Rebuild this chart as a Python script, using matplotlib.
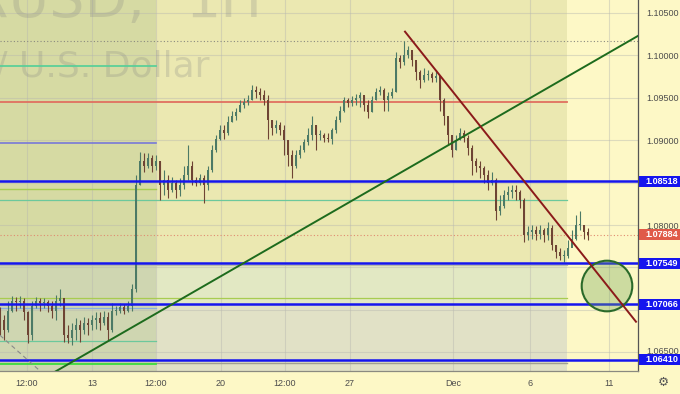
import matplotlib
matplotlib.use("Agg")
import matplotlib.pyplot as plt
import matplotlib.transforms as mtransforms
from matplotlib.patches import Rectangle, Ellipse
import numpy as np

# ---------------- data ----------------
first_open = 1.0697
close = [1.0688, 1.0676, 1.0699, 1.0711, 1.0709, 1.0711, 1.0697, 1.0670, 1.0705, 1.0711,
         1.0708, 1.0709, 1.0705, 1.0699, 1.0711, 1.0714, 1.0670, 1.0667, 1.0676, 1.0682,
         1.0676, 1.0685, 1.0682, 1.0688, 1.0690, 1.0685, 1.0692, 1.0676, 1.0699, 1.0699,
         1.0703, 1.0699, 1.0705, 1.0725, 1.0847, 1.0876, 1.0870, 1.0879, 1.0870, 1.0876,
         1.0847, 1.0853, 1.0841, 1.0850, 1.0841, 1.0847, 1.0859, 1.0870, 1.0853, 1.0850,
         1.0855, 1.0847, 1.0865, 1.0888, 1.0902, 1.0912, 1.0909, 1.0921, 1.0929, 1.0933,
         1.0941, 1.0945, 1.0947, 1.0959, 1.0957, 1.0953, 1.0947, 1.0924, 1.0914, 1.0918,
         1.0912, 1.0900, 1.0882, 1.0870, 1.0882, 1.0888, 1.0898, 1.0906, 1.0918, 1.0906,
         1.0906, 1.0903, 1.0902, 1.0912, 1.0924, 1.0935, 1.0947, 1.0944, 1.0947, 1.0950,
         1.0953, 1.0941, 1.0933, 1.0947, 1.0957, 1.0959, 1.0947, 1.0952, 1.0957, 1.0997,
         1.0992, 1.1000, 1.1006, 1.0994, 1.0980, 1.0971, 1.0977, 1.0978, 1.0973, 1.0976,
         1.0947, 1.0929, 1.0906, 1.0888, 1.0900, 1.0909, 1.0903, 1.0891, 1.0876, 1.0870,
         1.0867, 1.0859, 1.0850, 1.0853, 1.0817, 1.0823, 1.0835, 1.0839, 1.0841, 1.0839,
         1.0829, 1.0788, 1.0792, 1.0794, 1.0789, 1.0794, 1.0788, 1.0796, 1.0776, 1.0768,
         1.0764, 1.0764, 1.0773, 1.0784, 1.0800, 1.0800, 1.0792, 1.0788]
high = [1.0703, 1.0694, 1.0711, 1.0716, 1.0715, 1.0716, 1.0714, 1.0699, 1.0711, 1.0715,
        1.0714, 1.0714, 1.0712, 1.0711, 1.0717, 1.0724, 1.0711, 1.0682, 1.0685, 1.0690,
        1.0688, 1.0691, 1.0690, 1.0694, 1.0697, 1.0698, 1.0699, 1.0697, 1.0708, 1.0705,
        1.0708, 1.0707, 1.0711, 1.0731, 1.0859, 1.0886, 1.0885, 1.0885, 1.0882, 1.0882,
        1.0876, 1.0865, 1.0859, 1.0857, 1.0853, 1.0855, 1.0870, 1.0894, 1.0876, 1.0857,
        1.0860, 1.0859, 1.0870, 1.0894, 1.0906, 1.0918, 1.0918, 1.0929, 1.0935, 1.0938,
        1.0947, 1.0950, 1.0953, 1.0965, 1.0964, 1.0961, 1.0959, 1.0953, 1.0924, 1.0924,
        1.0921, 1.0918, 1.0900, 1.0888, 1.0888, 1.0894, 1.0902, 1.0914, 1.0929, 1.0918,
        1.0912, 1.0909, 1.0908, 1.0914, 1.0929, 1.0940, 1.0951, 1.0950, 1.0952, 1.0955,
        1.0957, 1.0952, 1.0947, 1.0952, 1.0961, 1.0964, 1.0961, 1.0957, 1.0961, 1.1004,
        1.1000, 1.1017, 1.1011, 1.1004, 1.0992, 1.0983, 1.0985, 1.0983, 1.0980, 1.0983,
        1.0976, 1.0950, 1.0924, 1.0906, 1.0906, 1.0914, 1.0912, 1.0906, 1.0894, 1.0879,
        1.0876, 1.0870, 1.0865, 1.0862, 1.0855, 1.0835, 1.0841, 1.0846, 1.0847, 1.0847,
        1.0841, 1.0832, 1.0799, 1.0800, 1.0799, 1.0800, 1.0796, 1.0803, 1.0800, 1.0776,
        1.0773, 1.0770, 1.0782, 1.0794, 1.0812, 1.0817, 1.0800, 1.0796]
low = [1.0670, 1.0664, 1.0674, 1.0697, 1.0699, 1.0702, 1.0688, 1.0661, 1.0664, 1.0702,
       1.0699, 1.0702, 1.0697, 1.0690, 1.0688, 1.0705, 1.0662, 1.0661, 1.0658, 1.0664,
       1.0662, 1.0672, 1.0670, 1.0676, 1.0678, 1.0676, 1.0682, 1.0664, 1.0674, 1.0694,
       1.0696, 1.0695, 1.0697, 1.0699, 1.0721, 1.0847, 1.0862, 1.0867, 1.0862, 1.0865,
       1.0829, 1.0835, 1.0832, 1.0839, 1.0832, 1.0834, 1.0843, 1.0853, 1.0847, 1.0846,
       1.0847, 1.0826, 1.0841, 1.0862, 1.0886, 1.0900, 1.0902, 1.0906, 1.0921, 1.0924,
       1.0933, 1.0938, 1.0941, 1.0947, 1.0950, 1.0947, 1.0941, 1.0902, 1.0906, 1.0909,
       1.0906, 1.0882, 1.0870, 1.0855, 1.0867, 1.0879, 1.0886, 1.0894, 1.0900, 1.0888,
       1.0900, 1.0898, 1.0898, 1.0896, 1.0909, 1.0921, 1.0933, 1.0939, 1.0940, 1.0942,
       1.0939, 1.0935, 1.0926, 1.0933, 1.0947, 1.0953, 1.0935, 1.0935, 1.0950, 1.0957,
       1.0985, 1.0989, 1.0997, 1.0987, 1.0971, 1.0961, 1.0969, 1.0971, 1.0969, 1.0969,
       1.0935, 1.0918, 1.0894, 1.0880, 1.0888, 1.0900, 1.0898, 1.0882, 1.0859, 1.0862,
       1.0855, 1.0850, 1.0841, 1.0847, 1.0806, 1.0812, 1.0820, 1.0829, 1.0832, 1.0829,
       1.0820, 1.0780, 1.0782, 1.0784, 1.0782, 1.0784, 1.0780, 1.0782, 1.0770, 1.0761,
       1.0759, 1.0756, 1.0761, 1.0776, 1.0782, 1.0794, 1.0784, 1.0782]

last_price = 1.07884
key_levels = [1.08518, 1.07549, 1.07066, 1.06410]
price_ticks = [1.065, 1.070, 1.075, 1.080, 1.085, 1.090, 1.095, 1.100, 1.105]
hidden_ticks = [1.070, 1.075, 1.085]
time_tick_bars = [6.75, 23, 39, 55.25, 71.25, 87.5, 113.25, 132.5, 152.25]
time_tick_labels = ["12:00", "13", "12:00", "20", "12:00", "27", "Dec", "6", "11"]

# drawn trend lines (bar index, price)
green_trend_x = [13.75, 159.5]
green_trend_p = [1.0627, 1.1023]
red_trend_x = [101.25, 159.0]
red_trend_p = [1.1028, 1.0686]
dash_trend_x = [0, 10]
dash_trend_p = [1.0670, 1.0628]
target_center = (151.75, 1.07281)
target_size = (12.65, 0.00597)

# ---------------- figure ----------------
W, H = 680, 394
fig = plt.figure(figsize=(W / 100, H / 100), dpi=100)
fig.patch.set_facecolor("#fdf8c6")
ax = fig.add_axes([0, 23 / H, 638 / W, 371 / H])
ax.set_facecolor("#fdf8c6")
x_max = 159.5
ax.set_xlim(0, x_max)
ax.set_ylim(1.06279, 1.10653)

zone1, zone2 = 39, 141.75
f1, f2 = zone1 / x_max, zone2 / x_max
lvl_top = 1.07549
lvl_mid = 1.07066
ylo, yhi = ax.get_ylim()

def rect(x0, x1, y0, y1, c):
    ax.add_patch(Rectangle((x0, y0), x1 - x0, y1 - y0, facecolor=c, edgecolor="none", zorder=0))

rect(0, zone1, lvl_top, yhi, "#d6daa3")
rect(zone1, zone2, lvl_top, yhi, "#ebe8b1")
rect(0, zone1, ylo, lvl_top, "#cfd6b1")
rect(zone1, zone2, lvl_mid, lvl_top, "#e2e8c3")
rect(zone1, zone2, ylo, lvl_mid, "#e1e1c6")

# grid
ax.set_axisbelow(True)
ax.set_xticks(time_tick_bars)
ax.set_xticklabels(time_tick_labels)
ax.set_yticks(price_ticks)
ax.set_yticklabels(["" if any(abs(v - t) < 1e-9 for t in hidden_ticks) else f"{v:.5f}"
                    for v in price_ticks])
ax.grid(True, color="#b8b8b0", alpha=0.45, lw=0.8)
ax.yaxis.tick_right()
ax.tick_params(axis="both", length=0, labelsize=6.5, labelcolor="#4d4d4d")
ax.tick_params(axis="y", pad=6)
ax.tick_params(axis="x", pad=6)
for lab in ax.get_xticklabels() + ax.get_yticklabels():
    lab.set_family("Liberation Sans")
ylabs = ax.get_yticklabels()
ylabs[0].set_transform(ylabs[0].get_transform() + mtransforms.Affine2D().translate(0, 1.5))
for s in ["top", "left"]:
    ax.spines[s].set_visible(False)
ax.spines["right"].set_color("#555555")
ax.spines["bottom"].set_color("#8a8a80")
ax.spines["right"].set_linewidth(0.9)
ax.spines["bottom"].set_linewidth(0.9)

# watermark
wm = dict(transform=ax.transAxes, va="baseline", color="#808080", alpha=0.24, zorder=0.6)
ax.text(0.228, 0.955, "EURUSD,", ha="right", fontsize=40, **wm)
ax.text(0.412, 0.955, "1H", ha="right", fontsize=40, **wm)
ax.text(0.329, 0.795, "Euro / U.S. Dollar", ha="right", fontsize=26, **wm)

# horizontal drawing lines
ax.axhline(1.1017, color="#8a8a80", lw=0.8, ls=(0, (1, 2)), zorder=1)
ax.axhline(1.0987, xmax=f1, color="#5ccf98", lw=1.3, zorder=1)
ax.axhline(1.0945, xmax=f2, color="#e07060", lw=1.3, zorder=1)
ax.axhline(1.0897, xmax=f1, color="#7878d8", lw=1.2, zorder=1)
ax.axhline(1.0843, xmax=f1, color="#a8cc50", lw=1.0, zorder=1)
ax.axhline(1.0829, xmax=f2, color="#6cc89c", lw=0.9, zorder=1)
ax.axhline(last_price, color="#e08a70", lw=0.8, ls=(0, (1, 2)), zorder=1)
ax.axhline(1.0753, xmax=f2, color="#b8b8a8", lw=0.8, zorder=1)
ax.axhline(1.0714, xmax=f2, color="#a8cc50", lw=0.9, zorder=1)
ax.axhline(1.0702, xmax=f1, color="#8ab0e0", lw=0.9, zorder=1)
ax.axhline(1.0663, xmax=f1, color="#6cc89c", lw=0.9, zorder=1)
ax.axhline(1.0637, xmax=f2, color="#a0a090", lw=1.0, zorder=1)
ax.axhline(1.0636, xmax=f1, color="#3ee03e", lw=1.3, zorder=1)

# candles
c = np.array(close)
o = np.concatenate([[first_open], c[:-1]])
h = np.array(high)
l = np.array(low)
xs = np.arange(len(c))
up = c >= o
cols = np.where(up, "#4c7a66", "#6e4434")
ax.vlines(xs, l, h, colors=cols, lw=0.8, zorder=2)
body_h = np.maximum(np.abs(c - o), 0.00008)
ax.bar(xs, body_h, bottom=np.minimum(o, c), width=0.7, color=cols, zorder=2.1)

# key levels
for lv in key_levels:
    ax.axhline(lv, color="#1515ee", lw=1.8, zorder=3)

# trend lines
ax.plot(green_trend_x, green_trend_p, color="#1d6b1d", lw=1.4, zorder=3.2)
ax.plot(red_trend_x, red_trend_p, color="#8b1a1a", lw=1.4, zorder=3.3)
ax.plot(dash_trend_x, dash_trend_p, color="#8a8a8a", lw=0.8, ls=(0, (4, 3)), zorder=3)
ax.add_patch(Ellipse(target_center, target_size[0], target_size[1], facecolor=(0.45, 0.65, 0.35, 0.35),
                     edgecolor="#2a6a2a", lw=1.5, zorder=3.1))

# price labels on right axis
blend = mtransforms.blended_transform_factory(fig.transFigure, ax.transData)
box_h = 0.00128
def price_box(p, fc):
    fig.add_artist(Rectangle((638.5 / W, p - box_h / 2), 42 / W, box_h, transform=blend,
                             facecolor=fc, edgecolor="none", zorder=4))
    fig.text(645 / W, p, f"{p:.5f}", transform=blend, ha="left", va="center", fontsize=6.5,
             color="white", fontweight="bold", family="Liberation Sans", zorder=5)

for lv in key_levels:
    price_box(lv, "#1515ee")
price_box(last_price, "#e05a48")

# settings gear
fig.text(663 / W, 1 - 382 / H, "\u2699", ha="center", va="center", fontsize=9, color="#555555")

fig.savefig("out.png", dpi=100, facecolor=fig.get_facecolor())
